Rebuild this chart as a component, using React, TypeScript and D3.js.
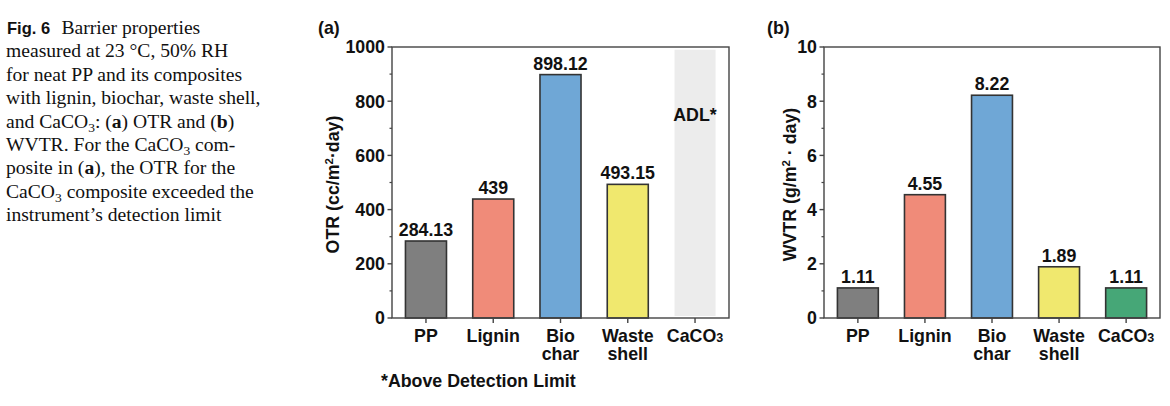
import React from "react";
import * as d3 from "d3";

const categories = ["PP", "Lignin", "Bio char", "Waste shell", "CaCO3"];
const otrValues: (number | null)[] = [284.13, 439, 898.12, 493.15, null];
const otrLabels = ["284.13", "439", "898.12", "493.15", ""];
const wvtrValues = [1.11, 4.55, 8.22, 1.89, 1.11];
const wvtrLabels = ["1.11", "4.55", "8.22", "1.89", "1.11"];
const colors = ["#7f7f7f", "#f08b79", "#6fa7d6", "#f0e86e", "#46a777"];
const otrTicks = [0, 200, 400, 600, 800, 1000];
const otrMinor = [100, 300, 500, 700, 900];
const wvtrTicks = [0, 2, 4, 6, 8, 10];
const wvtrMinor = [1, 3, 5, 7, 9];
const adlTop = 990;

const captionLines: { parts: { t: string; b?: boolean; sub?: boolean }[] }[] = [
  { parts: [{ t: "Barrier properties" }] },
  { parts: [{ t: "measured at 23 °C, 50% RH" }] },
  { parts: [{ t: "for neat PP and its composites" }] },
  { parts: [{ t: "with lignin, biochar, waste shell," }] },
  { parts: [{ t: "and CaCO" }, { t: "3", sub: true }, { t: ": (" }, { t: "a", b: true }, { t: ") OTR and (" }, { t: "b", b: true }, { t: ")" }] },
  { parts: [{ t: "WVTR. For the CaCO" }, { t: "3", sub: true }, { t: " com-" }] },
  { parts: [{ t: "posite in (" }, { t: "a", b: true }, { t: "), the OTR for the" }] },
  { parts: [{ t: "CaCO" }, { t: "3", sub: true }, { t: " composite exceeded the" }] },
  { parts: [{ t: "instrument’s detection limit" }] },
];

const SANS = "'Liberation Sans', Arial, Helvetica, sans-serif";
const SERIF = "'Liberation Serif', 'Times New Roman', serif";
const FS = 17.8;

function CatLabel({ name, x, y }: { name: string; x: number; y: number }) {
  if (name === "CaCO3") {
    return (
      <text x={x} y={y} textAnchor="middle" fontFamily={SANS} fontWeight="bold" fontSize={FS} fill="#111">
        CaCO<tspan fontSize={12.5}>3</tspan>
      </text>
    );
  }
  const words = name.split(" ");
  return (
    <text textAnchor="middle" fontFamily={SANS} fontWeight="bold" fontSize={FS} fill="#111">
      {words.map((w, i) => (
        <tspan key={i} x={x} y={y + i * 18.5}>
          {w}
        </tspan>
      ))}
    </text>
  );
}

function Panel(props: {
  x0: number;
  x1: number;
  values: (number | null)[];
  labels: string[];
  max: number;
  ticks: number[];
  minor: number[];
  title: React.ReactNode;
  titleX: number;
  letter: string;
  letterX: number;
  adl?: boolean;
}) {
  const { x0, x1, values, labels, max, ticks, minor } = props;
  const yTop = 47;
  const yBot = 318;
  const x = d3.scaleBand<string>().domain(categories).range([x0, x1]).paddingInner(0.39).paddingOuter(0.2);
  const y = d3.scaleLinear().domain([0, max]).range([yBot, yTop]);
  const bw = x.bandwidth();
  const axisColor = "#444";
  return (
    <g>
      <text x={props.letterX} y={34} fontFamily={SANS} fontWeight="bold" fontSize={FS} fill="#111">
        {props.letter}
      </text>
      {props.adl && (
        <g>
          <rect
            x={x("CaCO3")!}
            y={y(adlTop)}
            width={bw}
            height={y(0) - y(adlTop) - 2}
            fill="#ececec"
          />
          <text
            x={x("CaCO3")! + bw / 2}
            y={121}
            textAnchor="middle"
            fontFamily={SANS}
            fontWeight="bold"
            fontSize={FS}
            fill="#111"
          >
            ADL*
          </text>
        </g>
      )}
      {categories.map((c, i) => {
        const v = values[i];
        if (v == null) return null;
        return (
          <g key={c}>
            <rect
              x={x(c)!}
              y={y(v)}
              width={bw}
              height={y(0) - y(v)}
              fill={colors[i]}
              stroke="#333"
              strokeWidth={1.6}
            />
            <text
              x={x(c)! + bw / 2}
              y={y(v) - 5}
              textAnchor="middle"
              fontFamily={SANS}
              fontWeight="bold"
              fontSize={FS}
              fill="#111"
            >
              {labels[i]}
            </text>
          </g>
        );
      })}
      <rect x={x0} y={yTop} width={x1 - x0} height={yBot - yTop} fill="none" stroke={axisColor} strokeWidth={1.4} />
      {ticks.map((t) => (
        <g key={"t" + t}>
          <line x1={x0 - 4.5} x2={x0} y1={y(t)} y2={y(t)} stroke={axisColor} strokeWidth={1.4} />
          <text
            x={x0 - 7}
            y={y(t) + 6.3}
            textAnchor="end"
            fontFamily={SANS}
            fontWeight="bold"
            fontSize={FS}
            fill="#111"
          >
            {t}
          </text>
        </g>
      ))}
      {minor.map((t) => (
        <line key={"m" + t} x1={x0 - 2.5} x2={x0} y1={y(t)} y2={y(t)} stroke={axisColor} strokeWidth={1.2} />
      ))}
      {categories.map((c) => (
        <g key={"x" + c}>
          <line
            x1={x(c)! + bw / 2}
            x2={x(c)! + bw / 2}
            y1={yBot}
            y2={yBot + 5}
            stroke={axisColor}
            strokeWidth={1.4}
          />
          <CatLabel name={c} x={x(c)! + bw / 2} y={341.5} />
        </g>
      ))}
      <text
        transform={`translate(${props.titleX},${(yTop + yBot) / 2 + 2}) rotate(-90)`}
        textAnchor="middle"
        fontFamily={SANS}
        fontWeight="bold"
        fontSize={FS}
        fill="#111"
      >
        {props.title}
      </text>
    </g>
  );
}

export default function App() {
  return (
    <svg
      width={1170}
      height={406}
      viewBox="0 0 1170 406"
      style={{ position: "absolute", left: 0, top: 0, background: "#fff" }}
    >
      <rect width={1170} height={406} fill="#fff" />
      <g>
        {captionLines.map((line, i) => (
          <text key={i} x={6} y={34 + i * 23.4} fontFamily={SERIF} fontSize={19.6} fill="#111">
            {i === 0 && (
              <tspan x={7} fontFamily={SANS} fontWeight="bold" fontSize={16.5}>
                Fig. 6
              </tspan>
            )}
            {line.parts.map((p, j) => {
              const first = i === 0 && j === 0;
              if (p.sub) {
                return (
                  <tspan key={j} fontSize={13.5} dy={4}>
                    {p.t}
                  </tspan>
                );
              }
              const prevSub = j > 0 && line.parts[j - 1].sub;
              return (
                <tspan
                  key={j}
                  x={first ? 61.5 : undefined}
                  dy={prevSub ? -4 : undefined}
                  fontWeight={p.b ? "bold" : undefined}
                >
                  {p.t}
                </tspan>
              );
            })}
          </text>
        ))}
      </g>
      <Panel
        x0={392}
        x1={729}
        values={otrValues}
        labels={otrLabels}
        max={1000}
        ticks={otrTicks}
        minor={otrMinor}
        title={
          <>
            OTR (cc/m<tspan fontSize={11.5} dy={-6}>2</tspan>
            <tspan dy={6}>·day)</tspan>
          </>
        }
        titleX={339}
        letter="(a)"
        letterX={318}
        adl
      />
      <Panel
        x0={824}
        x1={1160}
        values={wvtrValues}
        labels={wvtrLabels}
        max={10}
        ticks={wvtrTicks}
        minor={wvtrMinor}
        title={
          <>
            WVTR (g/m<tspan fontSize={11.5} dy={-6}>2</tspan>
            <tspan dy={6}> · day)</tspan>
          </>
        }
        titleX={796}
        letter="(b)"
        letterX={767}
      />
      <text x={381} y={387} fontFamily={SANS} fontWeight="bold" fontSize={FS} fill="#111">
        *Above Detection Limit
      </text>
    </svg>
  );
}
